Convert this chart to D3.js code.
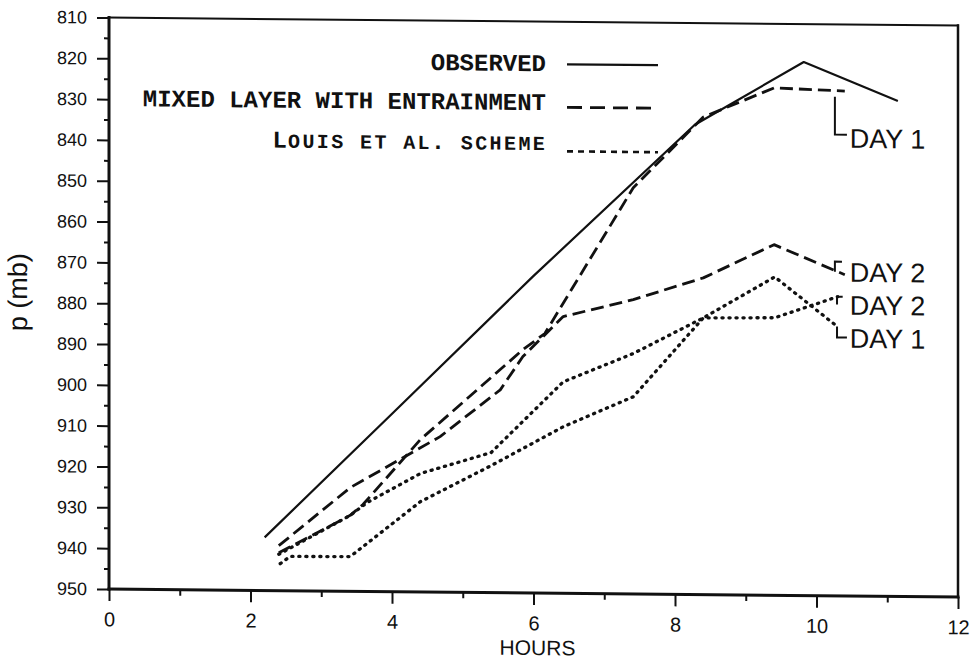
<!DOCTYPE html>
<html>
<head>
<meta charset="utf-8">
<script src="https://cdn.jsdelivr.net/npm/d3@7"></script>
<style>
  body { margin: 0; background: #fff; }
  svg { display: block; }
</style>
</head>
<body>
<script>
// --- values (hours, pressure in mb) ---
const obsHours = [2.2, 4.03, 5.99, 8.28, 9.82, 11.15];
const obsP     = [937.0, 905.9, 872.5, 834.9, 819.3, 828.6];

const mixDay1Hours = [2.4, 3.41, 3.59, 4.4, 5.85, 6.16, 7.41, 8.4, 9.4, 10.4];
const mixDay1P     = [940.7, 931.4, 928.7, 912.7, 890.4, 886.4, 850.5, 833.0, 825.7, 826.3];

const mixDay2Hours = [2.4, 3.41, 4.16, 4.68, 5.53, 5.85, 6.42, 7.41, 8.4, 9.4, 10.4];
const mixDay2P     = [939.0, 924.6, 917.1, 911.9, 900.3, 892.1, 882.2, 877.9, 872.4, 864.1, 871.3];

const louisDay1Hours = [2.4, 3.41, 3.65, 4.4, 5.4, 6.42, 7.41, 8.4, 9.41, 10.3];
const louisDay1P     = [941.1, 931.4, 928.2, 921.0, 915.7, 898.2, 891.1, 882.2, 872.0, 884.1];

const louisDay2Hours = [2.42, 2.56, 3.41, 4.4, 5.4, 6.42, 7.41, 8.4, 9.41, 10.3];
const louisDay2P     = [943.4, 941.6, 941.5, 927.9, 918.9, 909.2, 901.7, 882.2, 882.0, 876.7];

// axis ticks
const xTicks = [0, 2, 4, 6, 8, 10, 12];
const xMinorTicks = [1, 3, 5, 7, 9, 11];
const yTicks = d3.range(810, 951, 10);
const yMinorTicks = d3.range(815, 950, 10);

// legend + "DAY n" labels
const legendLabels = ["OBSERVED", "MIXED LAYER WITH ENTRAINMENT", "Louis et al. scheme"];
const dayLabels = ["DAY 1", "DAY 2", "DAY 2", "DAY 1"];
const dayLabelP = [840.2, 873.0, 881.1, 889.2];
const dayLabelHour = 10.47;
// little brackets next to the labels, in (hour, mb)
const dayBrackets = [
  [[10.26, 827.7], [10.26, 837.0], [10.43, 837.0]],
  [[10.36, 868.1], [10.26, 868.1], [10.26, 870.6]],
  [[10.37, 876.7], [10.29, 876.7], [10.29, 878.6]],
  [[10.29, 884.0], [10.29, 886.7], [10.43, 886.7]]
];

// --- SVG setup ---
const width = 971, height = 663;
const plot = { left: 109, right: 958, top: 17.5, bottom: 589 };

const svg = d3.select("body").append("svg")
  .attr("width", width)
  .attr("height", height);
svg.append("rect").attr("width", width).attr("height", height).attr("fill", "#fff");

// the scanned figure is slightly tilted (right side ~8px lower)
const tilt = 0.0095;
const g = svg.append("g")
  .attr("transform", `translate(0, ${-plot.left * tilt}) skewY(${Math.atan(tilt) * 180 / Math.PI})`);

// Scales
const xScale = d3.scaleLinear().domain([0, 12]).range([plot.left, plot.right]);
const yScale = d3.scaleLinear().domain([810, 950]).range([plot.top, plot.bottom]);

const ink = "#111";
const sans = "Arial, 'Liberation Sans', sans-serif";

// Axes
const yAxisGroup = g.append("g")
  .attr("transform", `translate(${plot.left},0)`)
  .call(d3.axisLeft(yScale).tickValues(yTicks).tickSize(12).tickSizeOuter(0).tickPadding(10));
yAxisGroup.select(".domain").remove();
yAxisGroup.selectAll("line").attr("stroke", ink).attr("stroke-width", 2);
yAxisGroup.selectAll("text")
  .attr("fill", ink)
  .style("font-family", sans)
  .style("font-size", "18px");

const yMinorGroup = g.append("g")
  .attr("transform", `translate(${plot.left},0)`)
  .call(d3.axisLeft(yScale).tickValues(yMinorTicks).tickSize(5).tickFormat(""));
yMinorGroup.select(".domain").remove();
yMinorGroup.selectAll("line").attr("stroke", ink).attr("stroke-width", 2);

const xAxisGroup = g.append("g")
  .attr("transform", `translate(0,${plot.bottom})`)
  .call(d3.axisBottom(xScale).tickValues(xTicks).tickSize(12).tickSizeOuter(0).tickPadding(11));
xAxisGroup.select(".domain").remove();
xAxisGroup.selectAll("line").attr("stroke", ink).attr("stroke-width", 2);
xAxisGroup.selectAll("text")
  .attr("fill", ink)
  .style("font-family", sans)
  .style("font-size", "20px");

const xMinorGroup = g.append("g")
  .attr("transform", `translate(0,${plot.bottom})`)
  .call(d3.axisBottom(xScale).tickValues(xMinorTicks).tickSize(6).tickFormat(""));
xMinorGroup.select(".domain").remove();
xMinorGroup.selectAll("line").attr("stroke", ink).attr("stroke-width", 2);

// frame
const frame = [
  { x1: plot.left, y1: plot.top, x2: plot.left, y2: plot.bottom, w: 3 },
  { x1: plot.left, y1: plot.bottom, x2: plot.right, y2: plot.bottom, w: 3 },
  { x1: plot.left, y1: plot.top, x2: plot.right, y2: plot.top, w: 2 },
  { x1: plot.right, y1: plot.top, x2: plot.right, y2: plot.bottom, w: 2.5 }
];
g.selectAll(".frame").data(frame).enter().append("line")
  .attr("class", "frame")
  .attr("x1", d => d.x1).attr("y1", d => d.y1)
  .attr("x2", d => d.x2).attr("y2", d => d.y2)
  .attr("stroke", ink).attr("stroke-width", d => d.w)
  .attr("stroke-linecap", "square");

// Axis labels
g.append("text")
  .attr("x", (plot.left + plot.right) / 2 + 4)
  .attr("y", 651)
  .attr("text-anchor", "middle")
  .attr("fill", ink)
  .style("font-family", sans)
  .style("font-size", "21px")
  .text("HOURS");

g.append("text")
  .attr("transform", "rotate(-90)")
  .attr("x", -293)
  .attr("y", 27)
  .attr("text-anchor", "middle")
  .attr("fill", ink)
  .style("font-family", sans)
  .style("font-size", "27px")
  .text("p (mb)");

// --- series ---
const solid = { dash: null, width: 2.2, cap: "butt" };
const dashed = { dash: "13,6", width: 2.8, cap: "butt" };
const dotted = { dash: "1.2,5.8", width: 3.3, cap: "round" };

const series = [
  { hours: obsHours, p: obsP, style: solid },
  { hours: mixDay1Hours, p: mixDay1P, style: dashed },
  { hours: mixDay2Hours, p: mixDay2P, style: dashed },
  { hours: louisDay1Hours, p: louisDay1P, style: dotted },
  { hours: louisDay2Hours, p: louisDay2P, style: dotted }
];

const line = d3.line()
  .x(d => xScale(d[0]))
  .y(d => yScale(d[1]));

g.selectAll(".series")
  .data(series)
  .enter().append("path")
  .attr("class", "series")
  .attr("d", s => line(s.hours.map((h, i) => [h, s.p[i]])))
  .attr("fill", "none")
  .attr("stroke", ink)
  .attr("stroke-width", s => s.style.width)
  .attr("stroke-dasharray", s => s.style.dash)
  .attr("stroke-linecap", s => s.style.cap)
  .attr("stroke-linejoin", "round");

// DAY labels with brackets
g.selectAll(".bracket")
  .data(dayBrackets)
  .enter().append("path")
  .attr("class", "bracket")
  .attr("d", d => line(d))
  .attr("fill", "none")
  .attr("stroke", ink)
  .attr("stroke-width", 2);

g.selectAll(".day-label")
  .data(dayLabels)
  .enter().append("text")
  .attr("class", "day-label")
  .attr("x", xScale(dayLabelHour))
  .attr("y", (d, i) => yScale(dayLabelP[i]))
  .attr("fill", ink)
  .style("font-family", sans)
  .style("font-size", "27px")
  .text(d => d);

// --- Legend (typewriter text, right aligned, sample line to the right) ---
const legendTextRight = 546;
const legendTextY = [67, 106, 146];
const legendLineY = [60, 103, 147];
const legendLineX = [567, 658];
const legendStyles = [
  { dash: null, width: 2.2, cap: "butt" },
  { dash: "15,8", width: 2.8, cap: "butt" },
  { dash: "6,5", width: 2.6, cap: "butt" }
];
const monoSize = 24, cell = monoSize * 0.6, smallSize = 20;

legendLabels.forEach((label, i) => {
  const t = g.append("text")
    .attr("y", legendTextY[i])
    .attr("fill", ink)
    .style("font-family", "'Liberation Mono', 'Courier New', monospace")
    .style("font-weight", "bold");
  // small caps drawn per character so every letter keeps its typewriter cell
  const start = legendTextRight - label.length * cell;
  label.split("").forEach((ch, k) => {
    const small = ch !== ch.toUpperCase();
    const size = small ? smallSize : monoSize;
    t.append("tspan")
      .attr("x", start + k * cell + (small ? (cell - smallSize * 0.6) / 2 : 0))
      .style("font-size", size + "px")
      .text(ch.toUpperCase());
  });

  g.append("line")
    .attr("x1", legendLineX[0]).attr("x2", legendLineX[1])
    .attr("y1", legendLineY[i]).attr("y2", legendLineY[i])
    .attr("stroke", ink)
    .attr("stroke-width", legendStyles[i].width)
    .attr("stroke-dasharray", legendStyles[i].dash)
    .attr("stroke-linecap", legendStyles[i].cap);
});
</script>
</body>
</html>
